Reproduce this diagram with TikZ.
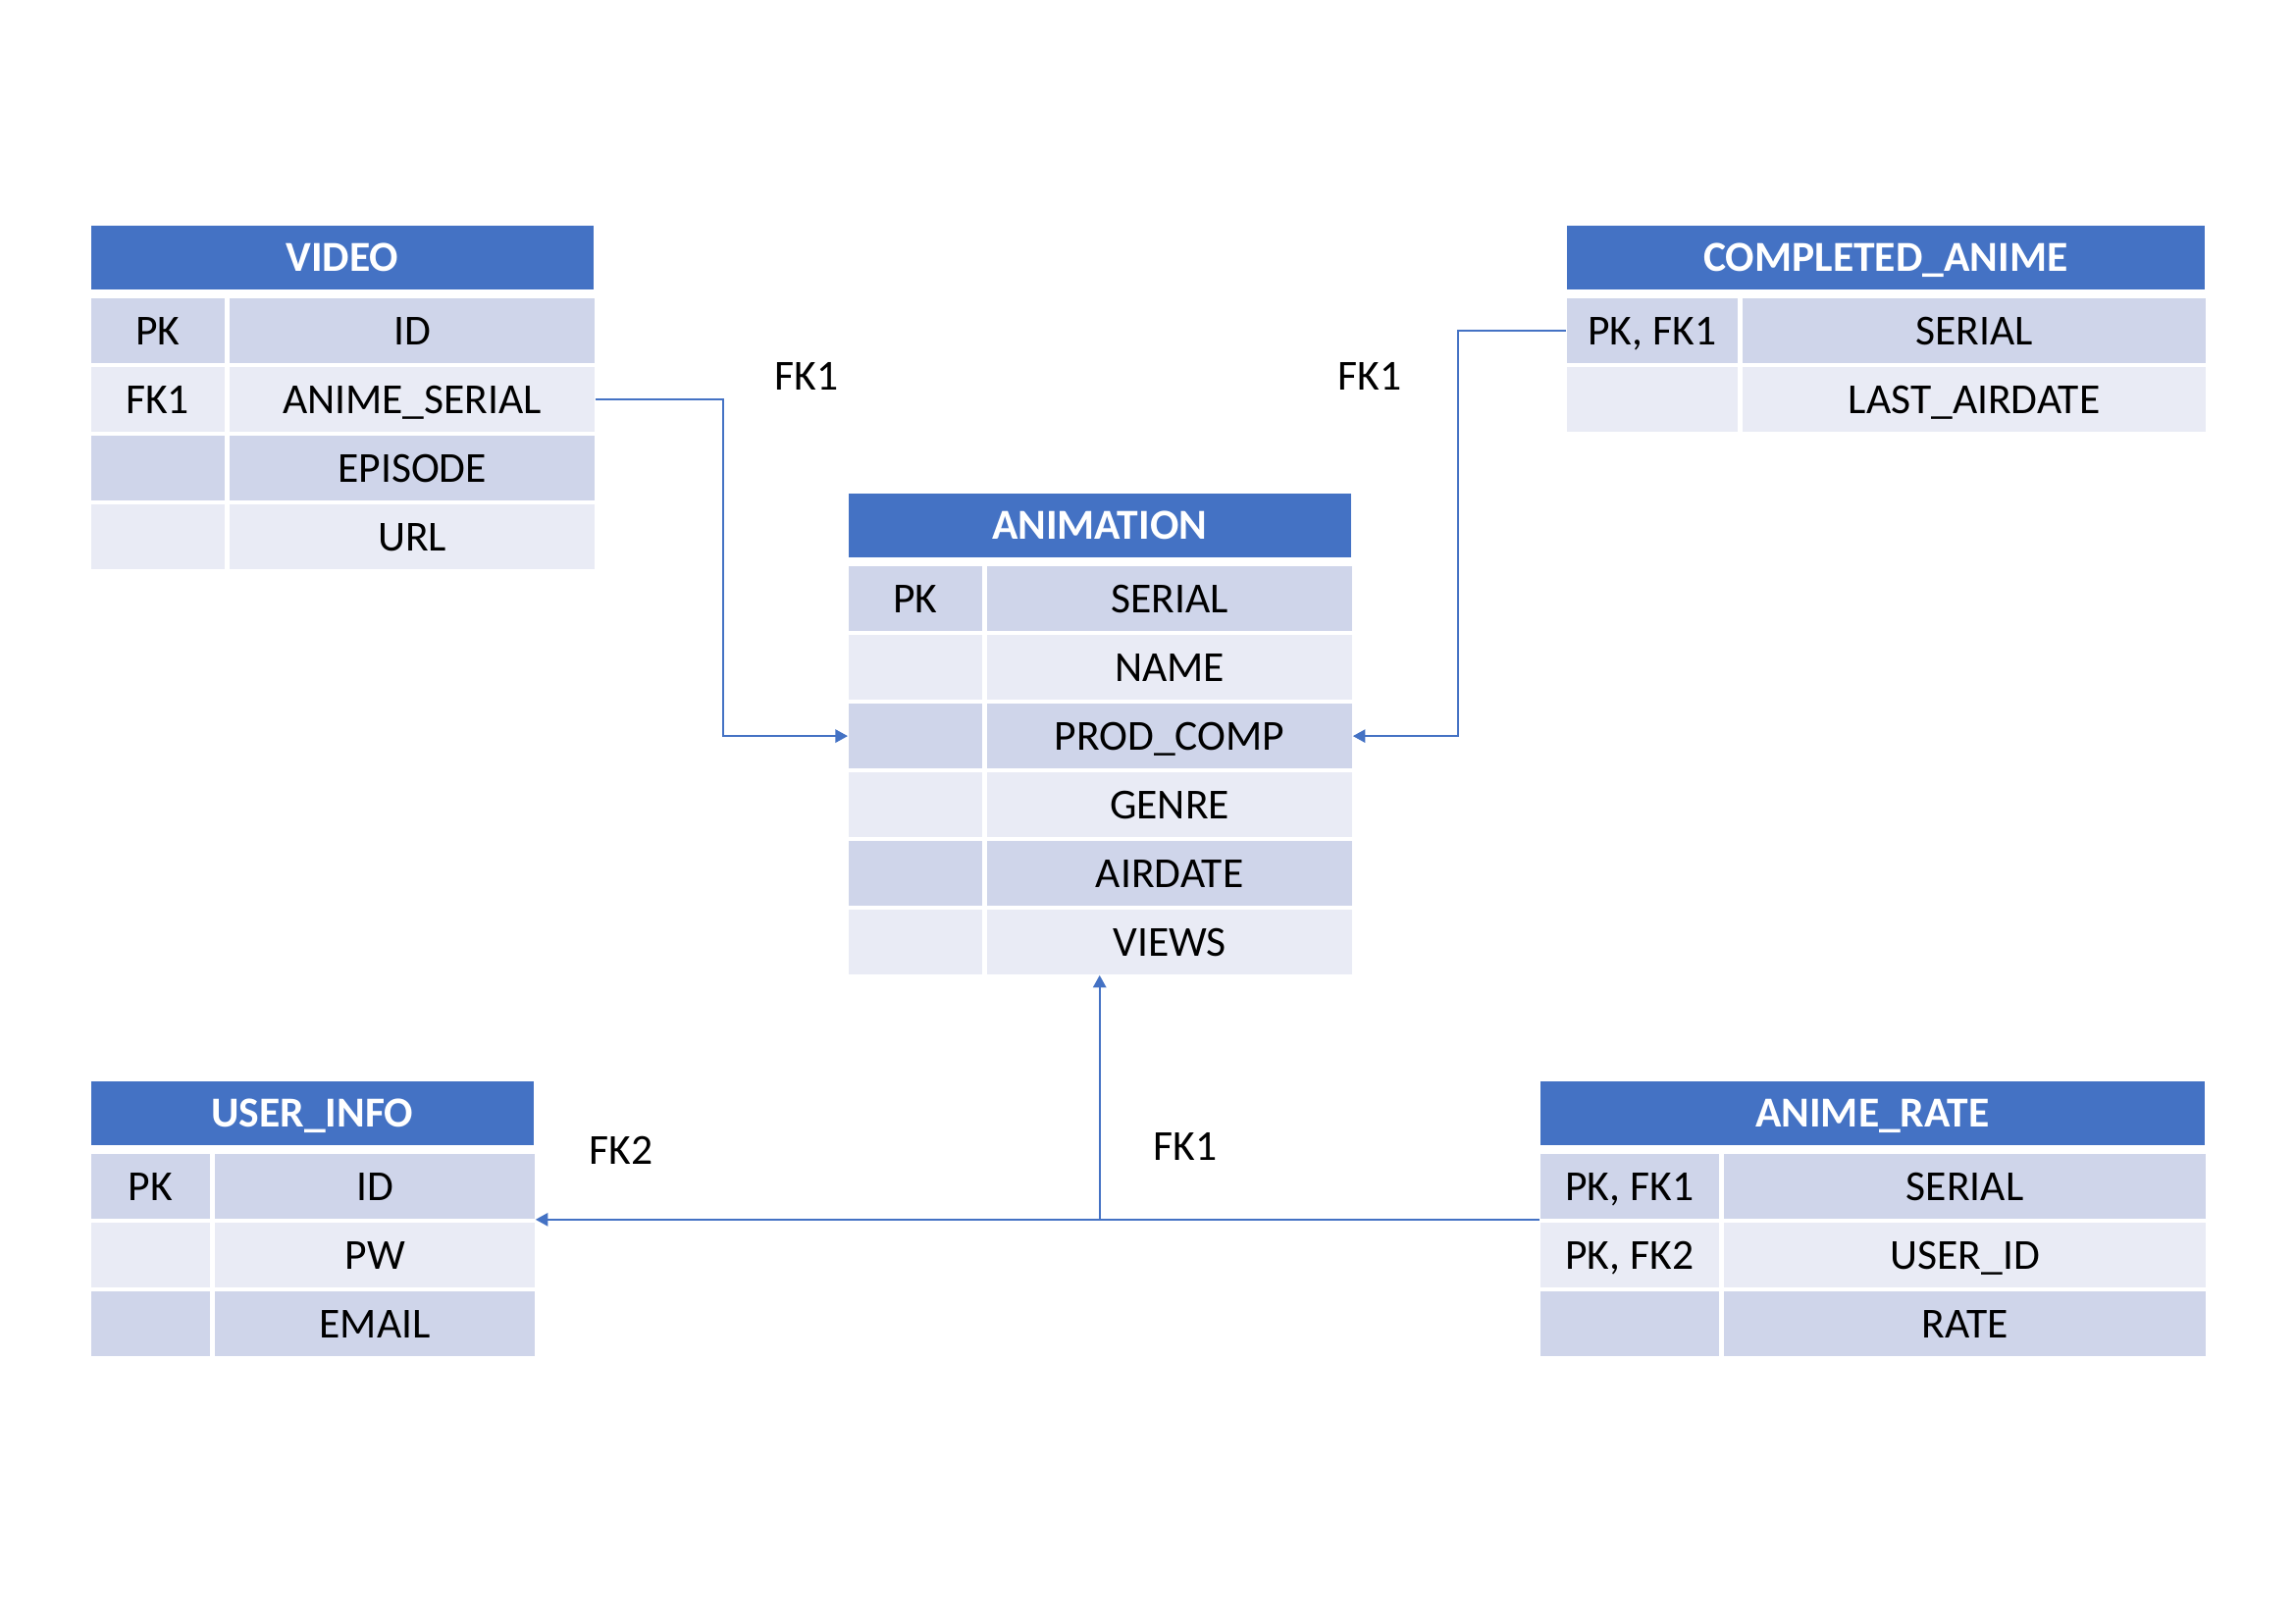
\documentclass[tikz,border=0pt]{standalone}
\usepackage{fontspec}
\setmainfont{Carlito}
\usetikzlibrary{arrows.meta, positioning, calc}
\definecolor{hdrblue}{HTML}{4472C4}
\definecolor{rowdark}{HTML}{CFD5EA}
\definecolor{rowlite}{HTML}{E9EBF5}

\begin{document}
\begin{tikzpicture}[
  every node/.style={font=\fontsize{12.4}{15}\selectfont},
  hdr/.style={rectangle,fill=hdrblue,text=white,font=\fontsize{12.4}{15}\selectfont\bfseries,minimum height=0.65cm,inner sep=0pt,text height=10.6pt,text depth=2.6pt,anchor=north west},
  cell/.style={rectangle,fill=#1,minimum height=0.66cm,inner sep=0pt,text height=10.6pt,text depth=2.6pt,anchor=north west},
  lbl/.style={inner sep=1pt},
  fk/.style={-{Triangle[length=3.6pt,width=3.8pt]},draw=hdrblue,line width=0.6pt}
]
  \useasboundingbox (0,0) rectangle (23.39,-16.54);

  % tables
  \node[hdr,minimum width=5.12cm](video) at (0.92,-2.29) {VIDEO};
  \foreach \k/\v [count=\i] in {PK/ID,FK1/ANIME\_SERIAL,{}/EPISODE,{}/URL}{
    \ifodd\i\relax\def\rc{rowdark}\else\def\rc{rowlite}\fi
    \node[cell=\rc,minimum width=1.36cm](video-k\i) at ($(video.south west)+(0,0.62-0.7*\i)$) {\k};
    \node[cell=\rc,minimum width=3.72cm](video-v\i) at ($(video-k\i.north east)+(0.04,0)$) {\v};
  }

  \node[hdr,minimum width=5.12cm](anim) at (8.64,-5.02) {ANIMATION};
  \foreach \k/\v [count=\i] in {PK/SERIAL,{}/NAME,{}/PROD\_COMP,{}/GENRE,{}/AIRDATE,{}/VIEWS}{
    \ifodd\i\relax\def\rc{rowdark}\else\def\rc{rowlite}\fi
    \node[cell=\rc,minimum width=1.36cm](anim-k\i) at ($(anim.south west)+(0,0.62-0.7*\i)$) {\k};
    \node[cell=\rc,minimum width=3.72cm](anim-v\i) at ($(anim-k\i.north east)+(0.04,0)$) {\v};
  }

  \node[hdr,minimum width=6.50cm](comp) at (15.96,-2.29) {COMPLETED\_ANIME};
  \foreach \k/\v [count=\i] in {{PK, FK1}/SERIAL,{}/LAST\_AIRDATE}{
    \ifodd\i\relax\def\rc{rowdark}\else\def\rc{rowlite}\fi
    \node[cell=\rc,minimum width=1.74cm](comp-k\i) at ($(comp.south west)+(0,0.62-0.7*\i)$) {\k};
    \node[cell=\rc,minimum width=4.72cm](comp-v\i) at ($(comp-k\i.north east)+(0.04,0)$) {\v};
  }

  \node[hdr,minimum width=4.51cm](user) at (0.92,-11.01) {USER\_INFO};
  \foreach \k/\v [count=\i] in {PK/ID,{}/PW,{}/EMAIL}{
    \ifodd\i\relax\def\rc{rowdark}\else\def\rc{rowlite}\fi
    \node[cell=\rc,minimum width=1.21cm](user-k\i) at ($(user.south west)+(0,0.62-0.7*\i)$) {\k};
    \node[cell=\rc,minimum width=3.26cm](user-v\i) at ($(user-k\i.north east)+(0.04,0)$) {\v};
  }

  \node[hdr,minimum width=6.77cm](rate) at (15.69,-11.01) {ANIME\_RATE};
  \foreach \k/\v [count=\i] in {{PK, FK1}/SERIAL,{PK, FK2}/USER\_ID,{}/RATE}{
    \ifodd\i\relax\def\rc{rowdark}\else\def\rc{rowlite}\fi
    \node[cell=\rc,minimum width=1.82cm](rate-k\i) at ($(rate.south west)+(0,0.62-0.7*\i)$) {\k};
    \node[cell=\rc,minimum width=4.91cm](rate-v\i) at ($(rate-k\i.north east)+(0.04,0)$) {\v};
  }

  % relations
  \node[lbl](fk-video) at (8.22,-3.83) {FK1};
  \node[lbl](fk-comp) at (13.96,-3.83) {FK1};
  \node[lbl](fk-user) at (6.33,-11.72) {FK2};
  \node[lbl](fk-rate) at (12.08,-11.68) {FK1};

  \coordinate (jn) at (anim.south |- rate-k1.south west);
  \draw[fk] (video-v2.east) -- ++(1.30,0) |- (anim-k3.west);
  \draw[fk] (comp-k1.west) -- ++(-1.10,0) |- (anim-v3.east);
  \draw[fk] (rate-k1.south west) -- (user-v1.south east);
  \draw[fk] (jn) -- (anim.south |- anim-v6.south);
\end{tikzpicture}
\end{document}
